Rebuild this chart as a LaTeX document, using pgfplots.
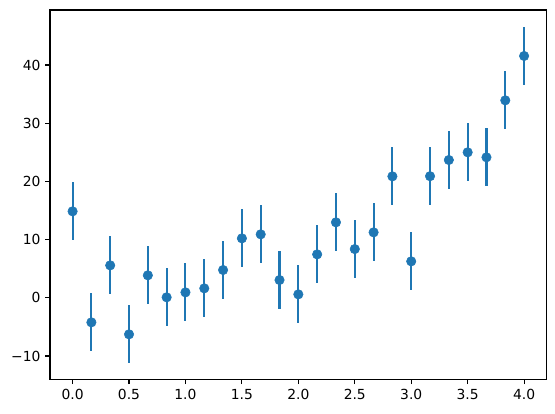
\documentclass[border=0pt]{standalone}
\usepackage{fontspec}
\setmainfont{DejaVu Sans}
\usepackage{pgfplots}
\pgfplotsset{compat=1.18}
\definecolor{c0}{HTML}{1F77B4}
\begin{document}
\begin{tikzpicture}
\begin{axis}[
  at={(0,0)}, anchor=south west,
  scale only axis,
  width=372.5pt, height=277pt,
  xmin=-0.2, xmax=4.2,
  ymin=-14.0, ymax=49.45,
  xtick={0,0.5,1,1.5,2,2.5,3,3.5,4},
  xticklabels={0.0,0.5,1.0,1.5,2.0,2.5,3.0,3.5,4.0},
  ytick={-10,0,10,20,30,40},
  yticklabels={−10,0,10,20,30,40},
  tick align=outside,
  tick pos=left,
  major tick length=3.65pt,
  every tick/.style={black, line width=0.83pt},
  axis line style={line width=0.83pt},
  tick label style={font=\fontsize{10.4}{12}\selectfont},
  xticklabel style={yshift=-0.5pt},
  /pgf/number format/assume math mode=true,
  clip=false,
]
\addplot[only marks, color=c0, mark=*, mark size=3.55pt,
  error bars/.cd, y dir=both, y explicit,
  error bar style={line width=1.56pt, color=c0},
  error mark=none]
 table[x=x, y=y, y error=e] {
x y e
0.0000 14.86 5
0.1667 -4.21 5
0.3333 5.58 5
0.5000 -6.27 5
0.6667 3.87 5
0.8333 0.09 5
1.0000 0.94 5
1.1667 1.63 5
1.3333 4.78 5
1.5000 10.22 5
1.6667 10.91 5
1.8333 3.06 5
2.0000 0.6 5
2.1667 7.47 5
2.3333 12.97 5
2.5000 8.38 5
2.6667 11.25 5
2.8333 20.87 5
3.0000 6.27 5
3.1667 20.9 5
3.3333 23.68 5
3.5000 25.0 5
3.6667 24.14 5
3.8333 33.93 5
4.0000 41.55 5
};
\end{axis}
\pgfresetboundingbox
\useasboundingbox (-37.5pt,-25.25pt) rectangle (378.75pt,284.5pt);
\end{tikzpicture}
\end{document}
